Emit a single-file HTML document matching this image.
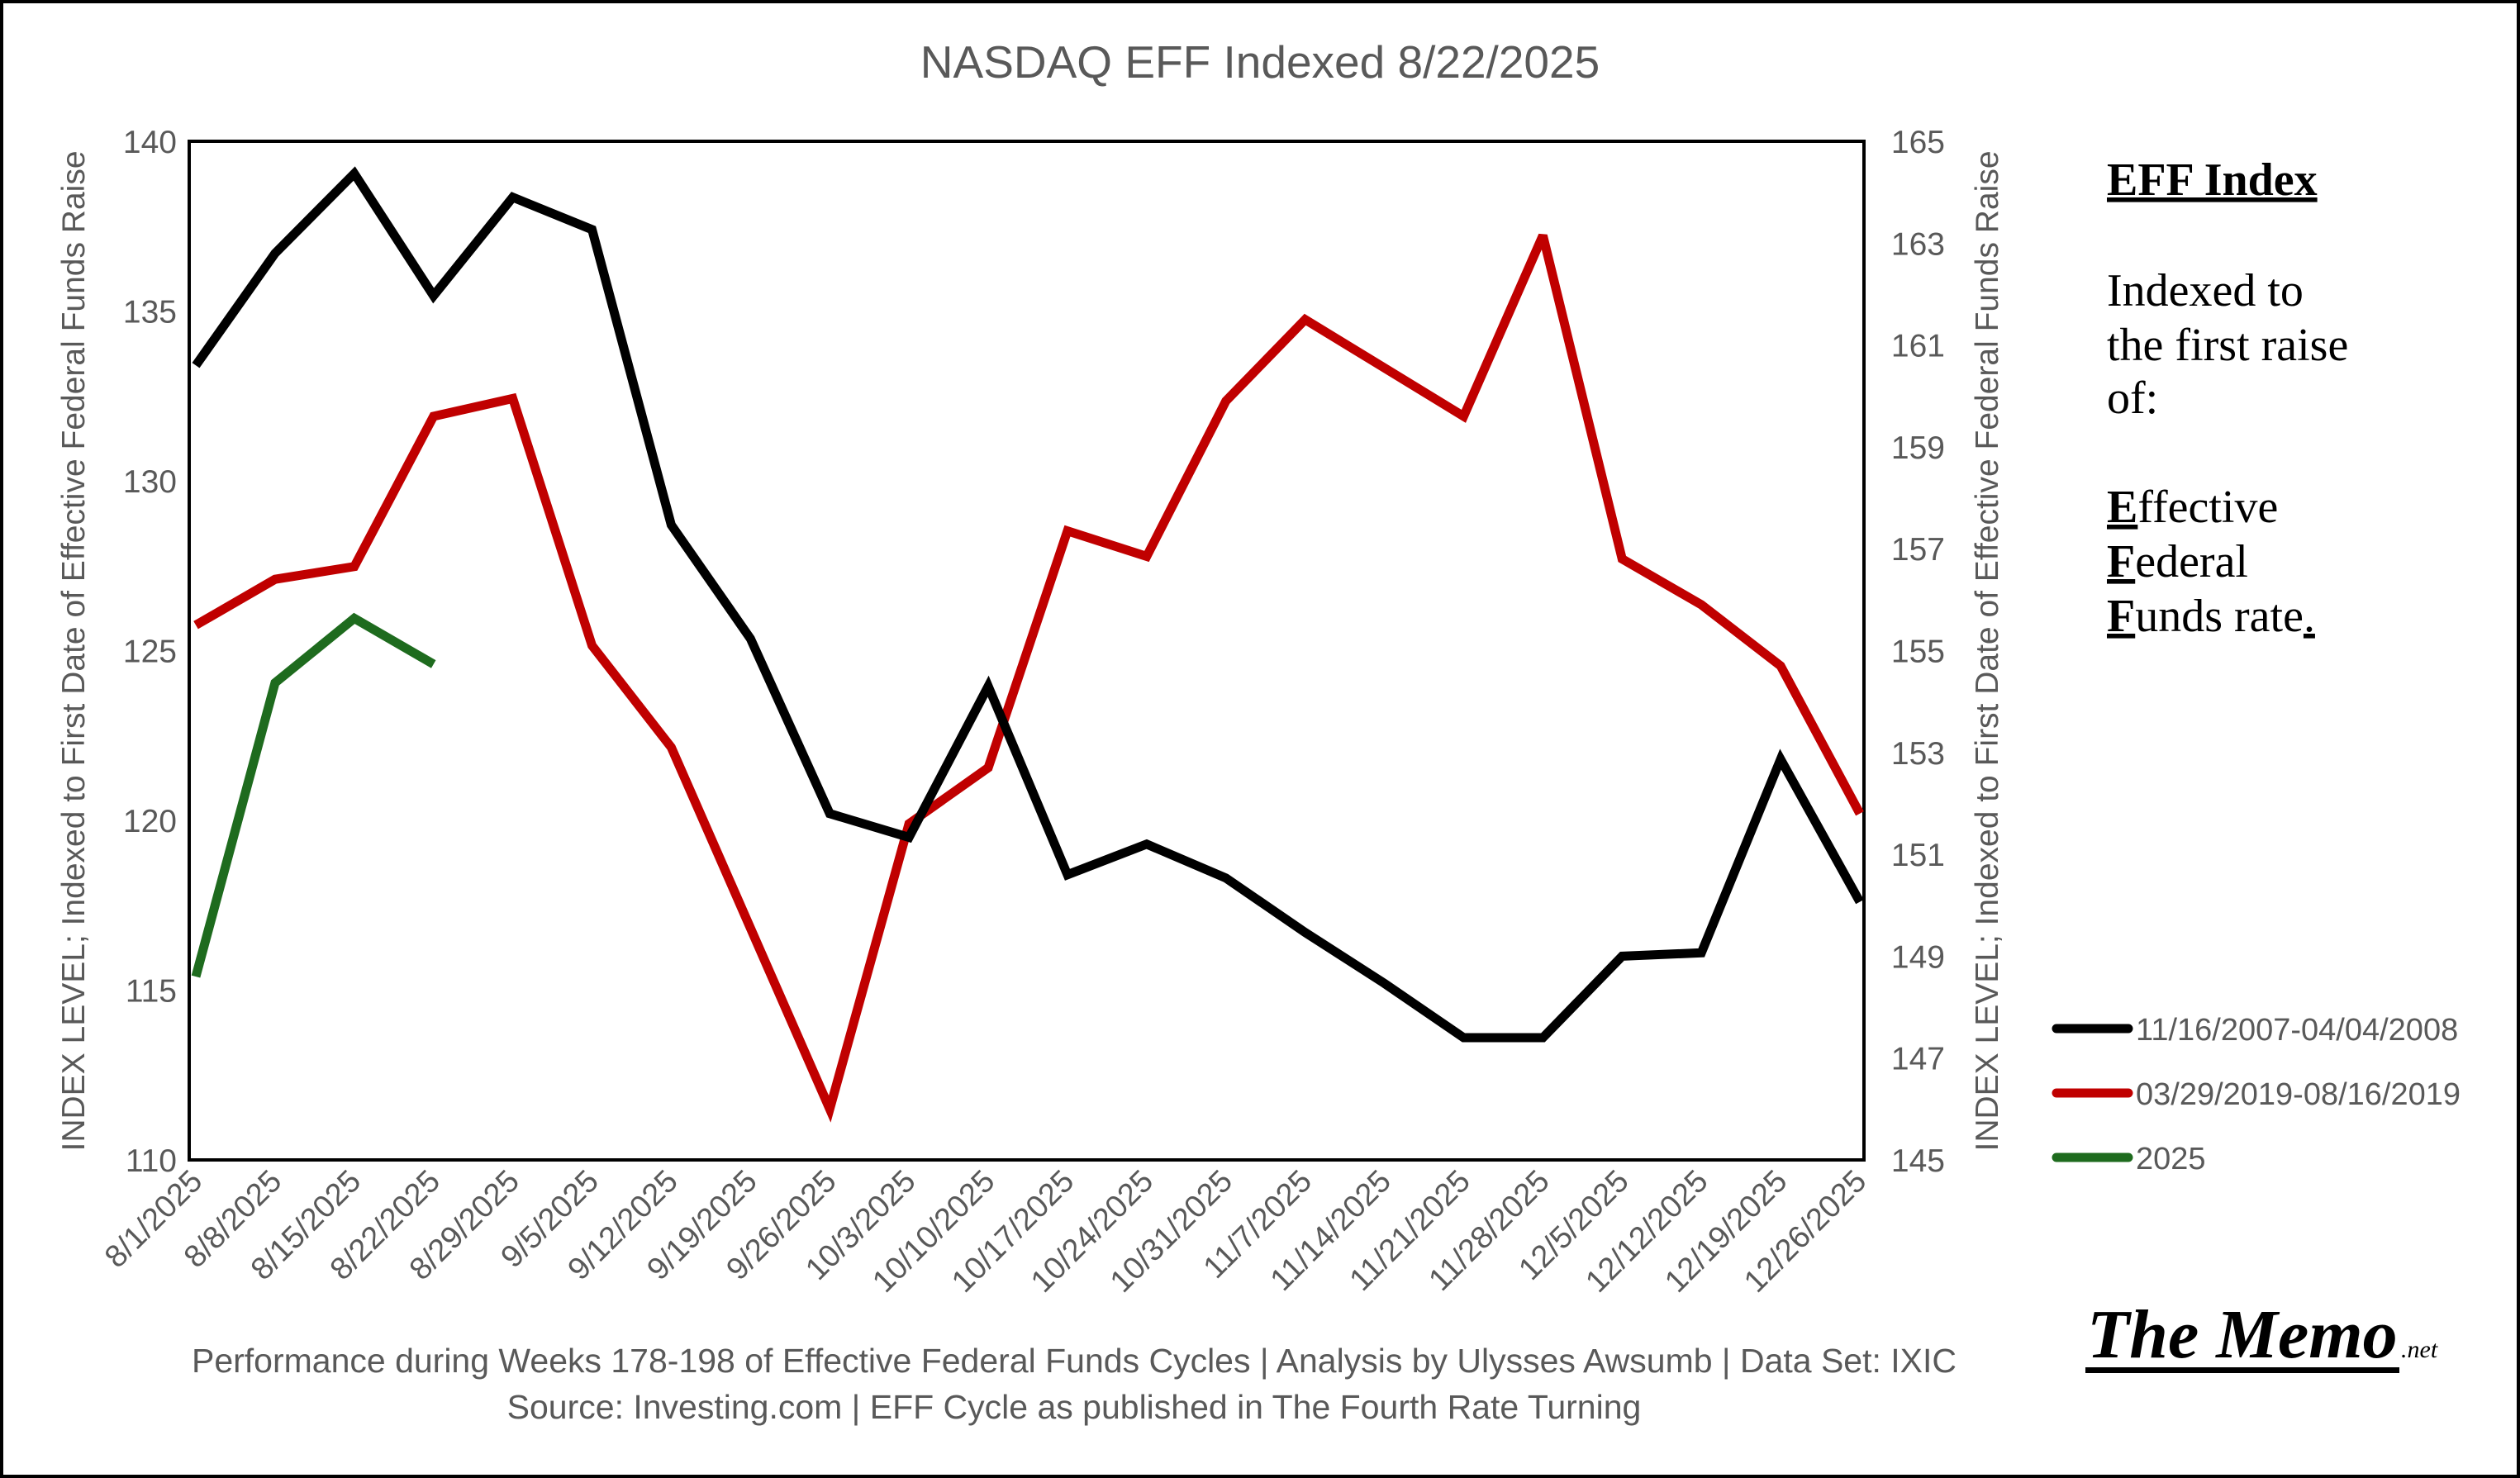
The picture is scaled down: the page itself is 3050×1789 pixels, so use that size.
<!DOCTYPE html>
<html><head><meta charset="utf-8"><style>
html,body{margin:0;padding:0;background:#fff;}
svg{display:block;}
</style></head><body>
<svg id="chart" xmlns="http://www.w3.org/2000/svg" width="3050" height="1789" viewBox="0 0 3050 1789" font-family="'Liberation Sans', sans-serif">
<rect x="2" y="2" width="3046" height="1785" fill="#fff" stroke="#000" stroke-width="4"/>
<text x="1525" y="94" font-size="55" fill="#595959" text-anchor="middle">NASDAQ  EFF Indexed 8/22/2025</text>
<rect x="229" y="171" width="2027" height="1233" fill="none" stroke="#000" stroke-width="4"/>
<g id="left-ticks"></g><g id="right-ticks"></g><g id="x-labels"></g><g id="series"></g>
<text transform="translate(102,788) rotate(-90)" font-size="39" fill="#595959" text-anchor="middle">INDEX LEVEL; Indexed to First Date of Effective Federal Funds Raise</text>
<text transform="translate(2418,788) rotate(-90)" font-size="39" fill="#595959" text-anchor="middle">INDEX LEVEL; Indexed to First Date of Effective Federal Funds Raise</text>
<g font-family="'Liberation Serif', serif" font-size="56" fill="#000">
<text x="2550" y="236" font-weight="bold" text-decoration="underline">EFF Index</text>
<text x="2550" y="370">Indexed to</text>
<text x="2550" y="436">the first raise</text>
<text x="2550" y="500">of:</text>
<text x="2550" y="632"><tspan font-weight="bold" text-decoration="underline">E</tspan>ffective</text>
<text x="2550" y="698"><tspan font-weight="bold" text-decoration="underline">F</tspan>ederal</text>
<text x="2550" y="764"><tspan font-weight="bold" text-decoration="underline">F</tspan>unds rate<tspan text-decoration="underline">.</tspan></text>
</g>
<g id="legend" font-size="38" fill="#595959"></g>
<text x="1300" y="1661" font-size="41" fill="#595959" text-anchor="middle">Performance during Weeks 178-198 of Effective Federal Funds Cycles  |  Analysis  by Ulysses Awsumb  |  Data Set: IXIC</text>
<text x="1300" y="1717" font-size="41" fill="#595959" text-anchor="middle">Source: Investing.com  |  EFF Cycle as published in The Fourth Rate Turning</text>
<g>
<text x="2526" y="1643" font-family="'Liberation Serif', serif" font-size="84" font-weight="bold" font-style="italic" fill="#000">The Memo</text>
<rect x="2524" y="1655" width="380" height="7" fill="#000"/>
<text x="2906" y="1643" font-family="'Liberation Serif', serif" font-size="30" font-style="italic" fill="#000">.net</text>
</g>
</svg>
<script>
const categories=["8/1/2025","8/8/2025","8/15/2025","8/22/2025","8/29/2025","9/5/2025","9/12/2025","9/19/2025","9/26/2025","10/3/2025","10/10/2025","10/17/2025","10/24/2025","10/31/2025","11/7/2025","11/14/2025","11/21/2025","11/28/2025","12/5/2025","12/12/2025","12/19/2025","12/26/2025"];
const series2007=[133.4,136.7,139.05,135.45,138.35,137.4,128.7,125.35,120.2,119.5,123.95,118.4,119.3,118.3,116.7,115.2,113.6,113.6,116.0,116.1,121.8,117.6];
const series2019=[155.5,156.4,156.65,159.6,159.95,155.1,153.1,149.55,146.0,151.6,152.7,157.35,156.85,159.9,161.5,160.55,159.6,163.15,156.8,155.9,154.7,151.8];
const series2025=[115.4,124.05,125.95,124.6];
const leftTicks=[110,115,120,125,130,135,140];
const rightTicks=[145,147,149,151,153,155,157,159,161,163,165];
const legendLabels=["11/16/2007-04/04/2008","03/29/2019-08/16/2019","2025"];
const NS="http://www.w3.org/2000/svg";
const L=229,R=2256,T=171,B=1404;
const xPos=i=>237+i*(2251-237)/(categories.length-1);
const yLeft=v=>B-(v-110)/(140-110)*(B-T);
const yRight=v=>B-(v-145)/(165-145)*(B-T);
function mk(tag,attrs,parent,txt){const e=document.createElementNS(NS,tag);for(const k in attrs)e.setAttribute(k,attrs[k]);if(txt!==undefined)e.textContent=txt;parent.appendChild(e);return e;}
const lt=document.getElementById('left-ticks');
leftTicks.forEach(v=>{const t=mk('text',{x:214,y:yLeft(v)+14,'font-size':39,fill:'#595959','text-anchor':'end'},lt,String(v));

});
const rt=document.getElementById('right-ticks');
rightTicks.forEach(v=>{const t=mk('text',{x:2354,y:yRight(v)+14,'font-size':39,fill:'#595959','text-anchor':'end'},rt,String(v));

});
const xl=document.getElementById('x-labels');
categories.forEach((c,i)=>{const x=xPos(i)+10,y=B+28;const t=mk('text',{x:x,y:y,'font-size':38,fill:'#595959','text-anchor':'end',transform:`rotate(-45 ${x} ${y})`},xl,c);

});
const sg=document.getElementById('series');
function line(vals,yf,color,name){const pts=vals.map((v,i)=>xPos(i)+','+yf(v)).join(' ');const p=mk('polyline',{points:pts,fill:'none',stroke:color,'stroke-width':11,'stroke-linejoin':'miter','stroke-miterlimit':3},sg);

}
line(series2019,yRight,'#C00000','series-2019');
line(series2007,yLeft,'#000000','series-2007');
line(series2025,yLeft,'#1E6B1E','series-2025');
const lg=document.getElementById('legend');
const colors=['#000000','#C00000','#1E6B1E'];
legendLabels.forEach((lab,i)=>{const y=1245+i*78;const g=mk('g',{},lg);


mk('line',{x1:2489,x2:2576,y1:y,y2:y,stroke:colors[i],'stroke-width':11,'stroke-linecap':'round'},g);
mk('text',{x:2585,y:y+14},g,lab);});
</script>
</body></html>
